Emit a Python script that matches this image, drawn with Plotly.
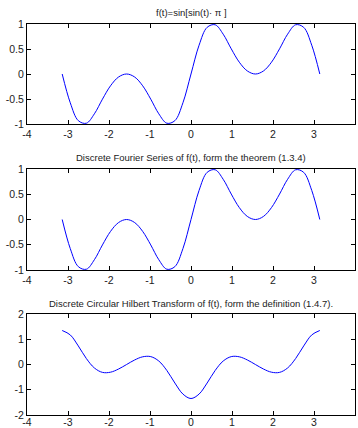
import math
import plotly.graph_objects as go

# t samples (k*pi/16, k=-16..16)
k_vals = list(range(-16, 17))
t_vals = [k * math.pi / 16 for k in k_vals]

# f(t) values (0..pi, odd symmetry)
f_half = [0.0, 0.5752, 0.9328, 0.9849, 0.7960, 0.5036, 0.2362, 0.0603, 0.0,
          0.0603, 0.2362, 0.5036, 0.7960, 0.9849, 0.9328, 0.5752, 0.0]
f_vals = [-v for v in f_half[:0:-1]] + f_half

# Discrete Fourier series reproduces f(t)
dfs_vals = list(f_vals)

# Hilbert transform values (even symmetry)
h_half = [-1.347, -1.172, -0.735, -0.237, 0.138, 0.312, 0.305, 0.179, 0.0,
          -0.179, -0.305, -0.312, -0.138, 0.237, 0.735, 1.172, 1.347]
h_vals = h_half[:0:-1] + h_half

titles = ["f(t)=sin[sin(t)· π ]",
          "Discrete Fourier Series of f(t), form the theorem (1.3.4)",
          "Discrete Circular Hilbert Transform of f(t), form the definition (1.4.7)."]
x_ticks = [-4, -3, -2, -1, 0, 1, 2, 3, 4]
x_tick_text = ["-4", "-3", "-2", "-1", "0", "1", "2", "3", "4"]
y_ticks_12 = [-1, -0.5, 0, 0.5, 1]
y_tick_text_12 = ["-1", "-0.5", "0", "0.5", "1"]
y_ticks_3 = [-2, -1, 0, 1, 2]
y_tick_text_3 = ["-2", "-1", "0", "1", "2"]

W, H = 358, 428
def py(p):
    return 1 - p / H
def px(p):
    return p / W

domains = [(py(124), py(24)), (py(270), py(169)), (py(415), py(314))]
title_y = [12, 157, 303]
xdom = [px(27), px(355)]
x_standoff = [0, 0, -3]

fig = go.Figure()
series = [f_vals, dfs_vals, h_vals]
tfont = dict(family="Liberation Sans, Arial, sans-serif", size=10.5, color="#222222")
hfont = dict(family="Liberation Sans, Arial, sans-serif", size=9.5, color="#222222")

for i, ys in enumerate(series):
    n = "" if i == 0 else str(i + 1)
    fig.add_trace(go.Scatter(x=t_vals, y=ys, mode="lines",
                             line=dict(color="#0000ff", width=1, shape="spline", smoothing=1.0),
                             xaxis="x" + n, yaxis="y" + n, showlegend=False, hoverinfo="skip"))
    common = dict(showline=True, linecolor="black", linewidth=1, mirror="allticks",
                  ticks="inside", ticklen=4, tickcolor="black", showgrid=False,
                  zeroline=False, tickfont=tfont, automargin=False)
    fig.layout["xaxis" + n] = dict(domain=xdom, range=[-4, 4], tickvals=x_ticks,
                                   ticktext=x_tick_text, anchor="y" + n,
                                   ticklabelstandoff=x_standoff[i], **common)
    if i < 2:
        fig.layout["yaxis" + n] = dict(domain=list(domains[i]), range=[-1, 1],
                                       tickvals=y_ticks_12, ticktext=y_tick_text_12,
                                       anchor="x" + n, **common)
    else:
        fig.layout["yaxis" + n] = dict(domain=list(domains[i]), range=[-2, 2],
                                       tickvals=y_ticks_3, ticktext=y_tick_text_3,
                                       anchor="x" + n, **common)
    fig.add_annotation(text=titles[i], x=0.5 * (xdom[0] + xdom[1]), y=py(title_y[i]),
                       xref="paper", yref="paper", showarrow=False,
                       xanchor="center", yanchor="middle", font=hfont)

fig.update_layout(width=W, height=H, margin=dict(l=0, r=0, t=0, b=0, autoexpand=False),
                  paper_bgcolor="white", plot_bgcolor="white")
fig.write_html("out.html", config={"displayModeBar": False, "staticPlot": True},
               post_script="document.body.style.margin='0';document.body.style.overflow='hidden';")
